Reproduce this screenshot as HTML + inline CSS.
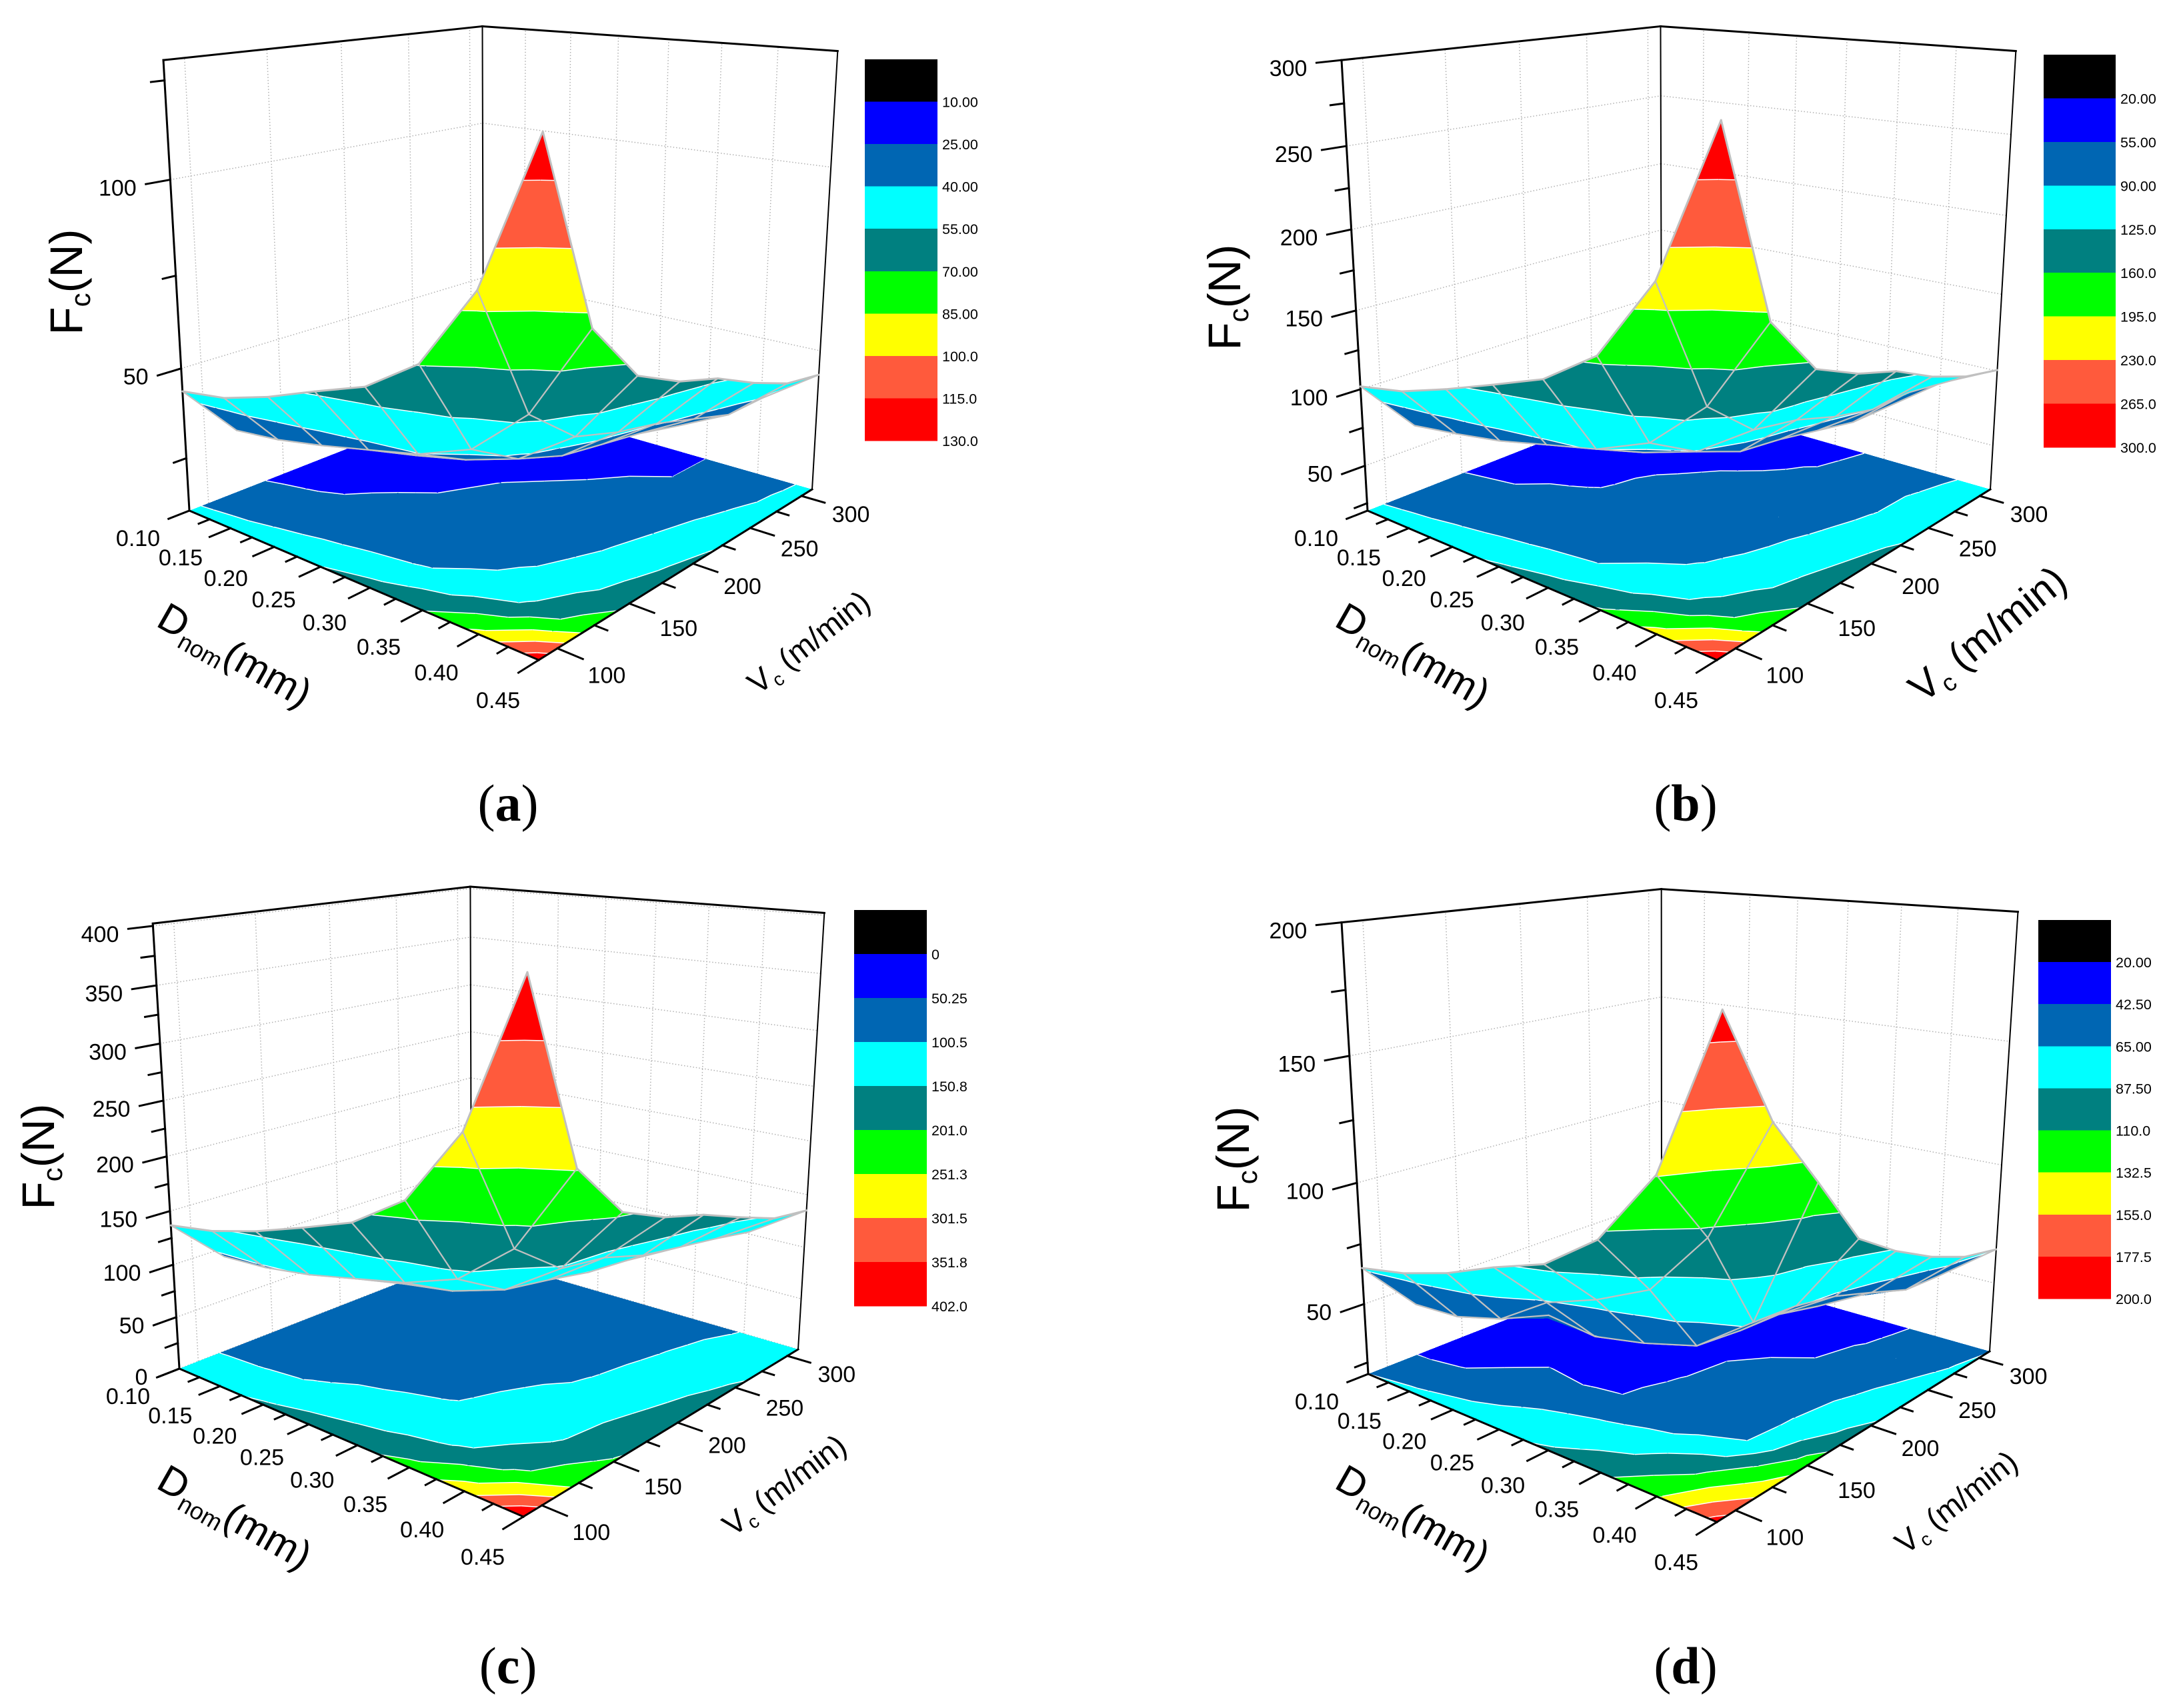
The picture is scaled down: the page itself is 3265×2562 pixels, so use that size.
<!DOCTYPE html>
<html lang="en">
<head>
<meta charset="utf-8">
<title>Cutting force surfaces Fc vs Dnom and Vc</title>
<style>
html,body{margin:0;padding:0;background:#fff;}
svg{display:block;font-family:"Liberation Sans",Arial,sans-serif;}
</style>
</head>
<body>
<svg id="figure" xmlns="http://www.w3.org/2000/svg" width="3265" height="2562" viewBox="0 0 3265 2562"></svg>
<script>
// ---- grid axes ----
const dNodes = [0.10, 0.15, 0.20, 0.25, 0.30, 0.35, 0.40, 0.45];
const vNodes = [88, 120, 152, 184, 215, 247, 279, 311];
const dTicks = ['0.10', '0.15', '0.20', '0.25', '0.30', '0.35', '0.40', '0.45'];
const vTicks = [100, 150, 200, 250, 300];

// ---- contour colours (low to high) ----
const bandColors = ['#0000ff', '#0066b3', '#00ffff', '#008080', '#00ff00', '#ffff00', '#ff5a3c', '#ff0000'];

// ---- legend levels ----
const levelsA = [10, 25, 40, 55, 70, 85, 100, 115, 130];
const labelsA = ['10.00', '25.00', '40.00', '55.00', '70.00', '85.00', '100.0', '115.0', '130.0'];
const levelsB = [20, 55, 90, 125, 160, 195, 230, 265, 300];
const labelsB = ['20.00', '55.00', '90.00', '125.0', '160.0', '195.0', '230.0', '265.0', '300.0'];
const levelsC = [0, 50.25, 100.5, 150.8, 201.0, 251.3, 301.5, 351.8, 402.0];
const labelsC = ['0', '50.25', '100.5', '150.8', '201.0', '251.3', '301.5', '351.8', '402.0'];
const levelsD = [20, 42.5, 65, 87.5, 110, 132.5, 155, 177.5, 200];
const labelsD = ['20.00', '42.50', '65.00', '87.50', '110.0', '132.5', '155.0', '177.5', '200.0'];

// ---- z axis ticks ----
const zMajorA = [50, 100];
const zMinorA = [25, 75, 125];
const zMajorB = [50, 100, 150, 200, 250, 300];
const zMinorB = [25, 75, 125, 175, 225, 275];
const zMajorC = [0, 50, 100, 150, 200, 250, 300, 350, 400];
const zMinorC = [25, 75, 125, 175, 225, 275, 325, 375];
const zMajorD = [50, 100, 150, 200];
const zMinorD = [25, 75, 125, 175];

// ---- Fc values: one row per Vc node, one column per Dnom node ----
const fcA = [
  [43.7, 45.8, 50.0, 55.3, 60.3, 69.4, 89.2, 124.2],
  [27.8, 29.4, 32.1, 35.3, 38.6, 44.2, 56.9, 80.2],
  [22.7, 24.0, 26.5, 28.5, 31.8, 36.5, 46.5, 65.2],
  [21.0, 22.0, 24.0, 26.0, 28.5, 32.0, 42.6, 59.3],
  [20.0, 21.0, 23.0, 25.0, 27.0, 30.0, 40.0, 55.7],
  [19.0, 20.0, 21.5, 23.0, 25.0, 28.0, 36.3, 50.0],
  [18.0, 19.0, 20.0, 21.5, 23.0, 25.0, 32.6, 45.3],
  [17.0, 18.0, 19.0, 20.5, 22.5, 25.0, 32.5, 43.2]
];
const fcB = [
  [101.8, 107.7, 118.0, 129.6, 141.6, 163.0, 209.3, 291.7],
  [64.8, 69.2, 74.5, 82.2, 89.7, 103.5, 133.7, 187.1],
  [55.0, 56.0, 62.0, 68.0, 75.4, 86.2, 109.1, 152.4],
  [50.0, 51.0, 54.0, 60.0, 66.0, 74.0, 103.4, 139.5],
  [47.0, 49.0, 53.0, 57.0, 62.0, 70.0, 94.3, 130.9],
  [44.0, 46.0, 49.0, 53.5, 57.0, 64.0, 87.5, 117.2],
  [42.0, 43.0, 46.0, 49.0, 53.5, 58.0, 87.3, 106.8],
  [40.0, 41.0, 44.0, 47.0, 52.0, 57.0, 83.0, 100.6]
];
const fcC = [
  [136.8, 144.1, 156.5, 172.0, 188.7, 218.4, 280.7, 399.0],
  [91.9, 94.8, 101.9, 112.2, 122.8, 139.8, 178.0, 251.6],
  [82.0, 85.0, 88.0, 91.0, 98.6, 114.0, 146.1, 204.6],
  [78.0, 80.0, 83.0, 87.0, 93.0, 106.0, 139.4, 186.1],
  [74.0, 76.0, 79.0, 83.0, 88.0, 97.0, 126.2, 174.2],
  [70.0, 72.0, 75.0, 79.0, 84.0, 92.0, 118.3, 157.6],
  [67.0, 69.0, 72.0, 76.0, 81.0, 88.0, 110.7, 142.1],
  [65.0, 67.0, 70.0, 74.0, 79.0, 86.0, 102.0, 135.1]
];
const fcD = [
  [65.1, 68.9, 74.9, 83.1, 90.1, 104.5, 131.4, 186.1],
  [42.1, 43.3, 48.9, 62.0, 69.5, 79.5, 104.0, 147.4],
  [35.0, 37.0, 42.5, 40.2, 44.3, 50.2, 66.1, 122.0],
  [33.0, 35.0, 37.0, 40.0, 43.0, 48.0, 64.5, 95.7],
  [31.0, 33.0, 35.0, 38.0, 42.5, 47.0, 60.8, 84.5],
  [29.0, 31.0, 33.0, 36.0, 39.5, 42.5, 54.8, 75.3],
  [28.0, 29.0, 31.0, 34.0, 37.0, 40.0, 48.4, 68.3],
  [27.0, 28.0, 30.0, 32.0, 35.0, 38.0, 47.0, 64.5]
];

// ---- panel layout (box geometry, legend and title placement) ----
const layoutA = {
  L:[284,766], F:[808,990], R:[1218,734], B:[725,593], LT:[245,90], RT:[1256,82], BT:[724,35], bandDrop:0.009,
  legend:[1297,89,109,572], zTitle:[123,423], dTitle:[232,938,29.5], vTitle:[1137,1043,-38,47], tag:[762,1231]
};
const layoutB = {
  L:[2051,766], F:[2575,990], R:[2985,734], B:[2492,593], LT:[2012,90], RT:[3023,82], BT:[2491,35], bandDrop:0.009,
  legend:[3065,82,108,589], zTitle:[1860,446], dTitle:[1999,938,29.5], vTitle:[2884,1056,-39,61], tag:[2528,1231]
};
const layoutC = {
  L:[269,2053], F:[785,2275], R:[1197,2024], B:[707,1882], LT:[229,1382], RT:[1236,1375], BT:[707,1328], bandDrop:0.004,
  legend:[1281,1365,109,594], zTitle:[81,1735], dTitle:[232,2231,29.5], vTitle:[1099,2306,-37,47], tag:[762,2525]
};
const layoutD = {
  L:[2052,2061], F:[2575,2283], R:[2984,2027], B:[2492,1888], LT:[2012,1383], RT:[3026,1375], BT:[2491,1328], bandDrop:0.01,
  legend:[3057,1380,109,568], zTitle:[1873,1739], dTitle:[1999,2231,29.5], vTitle:[2858,2333,-38,47], tag:[2528,2525]
};

const panels = [
  {id:'a', fc:fcA, levels:levelsA, labels:labelsA, zMajor:zMajorA, zMinor:zMinorA, box:layoutA},
  {id:'b', fc:fcB, levels:levelsB, labels:labelsB, zMajor:zMajorB, zMinor:zMinorB, box:layoutB},
  {id:'c', fc:fcC, levels:levelsC, labels:labelsC, zMajor:zMajorC, zMinor:zMinorC, box:layoutC},
  {id:'d', fc:fcD, levels:levelsD, labels:labelsD, zMajor:zMajorD, zMinor:zMinorD, box:layoutD}
];

const NS = 'http://www.w3.org/2000/svg';
const root = document.getElementById('figure');

function make(tag, parent, attrs) {
  const el = document.createElementNS(NS, tag);
  for (const k in attrs) el.setAttribute(k, attrs[k]);
  parent.appendChild(el);
  return el;
}

// axis functions
function uOf(d) { return (d - 0.10) / 0.35; }
function vOf(s) { return (s - 88) / 223; }

// perspective camera fitted to the box corners
function camera(b) {
  const dx1 = b.F[0]-b.R[0], dx2 = b.B[0]-b.R[0], sx = b.L[0]-b.F[0]+b.R[0]-b.B[0];
  const dy1 = b.F[1]-b.R[1], dy2 = b.B[1]-b.R[1], sy = b.L[1]-b.F[1]+b.R[1]-b.B[1];
  const den = dx1*dy2 - dx2*dy1;
  const g = (sx*dy2 - dx2*sy)/den, h = (dx1*sy - sx*dy1)/den;
  const a1 = b.F[0]-b.L[0]+g*b.F[0], a2 = b.B[0]-b.L[0]+h*b.B[0];
  const b1 = b.F[1]-b.L[1]+g*b.F[1], b2 = b.B[1]-b.L[1]+h*b.B[1];
  const sl = (b.L[0]-b.LT[0])/(b.L[1]-b.LT[1]);
  const sr = (b.R[0]-b.RT[0])/(b.R[1]-b.RT[1]);
  const vy = (b.RT[0]-sr*b.RT[1]-b.LT[0]+sl*b.LT[1])/(sl-sr);
  const vx = b.LT[0]+sl*(vy-b.LT[1]);
  const k1 = (b.LT[1]-b.L[1])/(vy-b.LT[1]);
  const k2 = (b.RT[1]*(1+g+h)-(b.L[1]+b1+b2))/(vy-b.RT[1]);
  const k3 = (b.BT[1]*(1+h)-(b.L[1]+b2))/(vy-b.BT[1]);
  const k = (k1+k2+k3)/3;
  return function(u, v, w) {
    const d = 1+g*u+h*v+k*w;
    return [(b.L[0]+a1*u+a2*v+vx*k*w)/d, (b.L[1]+b1*u+b2*v+vy*k*w)/d];
  };
}

function clip(poly, level, keepAbove) {
  const out = [];
  for (let i = 0; i < poly.length; i++) {
    const p = poly[i], q = poly[(i+1)%poly.length];
    const pin = keepAbove ? p[2] >= level : p[2] <= level;
    const qin = keepAbove ? q[2] >= level : q[2] <= level;
    if (pin) out.push(p);
    if (pin !== qin) {
      const t = (level-p[2])/(q[2]-p[2]);
      out.push([p[0]+t*(q[0]-p[0]), p[1]+t*(q[1]-p[1]), level]);
    }
  }
  return out;
}

function crossing(tri, level) {
  const pts = [];
  for (let i = 0; i < 3; i++) {
    const p = tri[i], q = tri[(i+1)%3];
    if ((p[2] < level) !== (q[2] < level)) {
      const t = (level-p[2])/(q[2]-p[2]);
      pts.push([p[0]+t*(q[0]-p[0]), p[1]+t*(q[1]-p[1])]);
    }
  }
  return pts.length === 2 ? pts : null;
}

// contour-filled cell: split in four triangles about the centre
function drawCell(parent, panel, project, i, j, flat) {
  const fc = panel.fc, lv = panel.levels;
  const z0 = lv[0], zr = lv[lv.length-1]-z0;
  const drop = flat ? 0 : panel.box.bandDrop*zr;
  const n = [
    [uOf(dNodes[i]), vOf(vNodes[j]), fc[j][i]+drop],
    [uOf(dNodes[i+1]), vOf(vNodes[j]), fc[j][i+1]+drop],
    [uOf(dNodes[i+1]), vOf(vNodes[j+1]), fc[j+1][i+1]+drop],
    [uOf(dNodes[i]), vOf(vNodes[j+1]), fc[j+1][i]+drop]
  ];
  const c = [0,1,2].map(a => (n[0][a]+n[1][a]+n[2][a]+n[3][a])/4);
  const toXY = (p, z) => project(p[0], p[1], flat ? 0 : (z-drop-z0)/zr);
  for (let t = 0; t < 4; t++) {
    const tri = [n[t], n[(t+1)%4], c];
    for (let b = 0; b < bandColors.length; b++) {
      const lo = b === 0 ? -Infinity : lv[b];
      const hi = b === bandColors.length-1 ? Infinity : lv[b+1];
      let poly = clip(tri, lo, true);
      if (poly.length >= 3) poly = clip(poly, hi, false);
      if (poly.length < 3) continue;
      const pts = poly.map(p => toXY(p, p[2]).map(x => x.toFixed(1)).join(',')).join(' ');
      const el = make('polygon', parent, {points:pts, fill:bandColors[b], 'shape-rendering':'crispEdges'});
      
      
    }
    for (let l = 1; l < lv.length-1; l++) {
      const seg = crossing(tri, lv[l]);
      if (!seg) continue;
      const a = toXY(seg[0], lv[l]), d = toXY(seg[1], lv[l]);
      const el = make('line', parent, {x1:a[0], y1:a[1], x2:d[0], y2:d[1], stroke:'#ffffff', 'stroke-width':1.5});
      
      
    }
  }
}

function drawWire(parent, panel, project, i1, j1, i2, j2) {
  const lv = panel.levels, z0 = lv[0], zr = lv[lv.length-1]-z0;
  const a = project(uOf(dNodes[i1]), vOf(vNodes[j1]), (panel.fc[j1][i1]-z0)/zr);
  const b = project(uOf(dNodes[i2]), vOf(vNodes[j2]), (panel.fc[j2][i2]-z0)/zr);
  const outer = (j1 === 0 && j2 === 0) || (i1 === 7 && i2 === 7);
  const el = make('line', parent, {x1:a[0], y1:a[1], x2:b[0], y2:b[1], stroke:'#c0c0c0', 'stroke-width':outer?3:2.2, 'stroke-linecap':'round'});
  
  
}

function axisLine(parent, a, b, width, name) {
  const el = make('line', parent, {x1:a[0], y1:a[1], x2:b[0], y2:b[1], stroke:'#000', 'stroke-width':width, 'stroke-linecap':'square'});
  
  
}

function gridLine(parent, a, b) {
  const el = make('line', parent, {x1:a[0], y1:a[1], x2:b[0], y2:b[1], stroke:'#b0b0b0', 'stroke-width':1.5, 'stroke-dasharray':'1.5 3'});
  
  
}

function label(parent, x, y, str, size, anchor, name) {
  const el = make('text', parent, {x:x, y:y, 'font-size':size, 'text-anchor':anchor, fill:'#000'});
  el.textContent = str;
  
  
  return el;
}

panels.forEach(panel => {
  const box = panel.box, lv = panel.levels;
  const z0 = lv[0], zr = lv[lv.length-1]-z0;
  const wOf = z => (z-z0)/zr;
  const project = camera(box);
  const g = make('g', root, {});
  
  

  // wall grid
  const walls = make('g', g, {});
  
  
  vTicks.forEach(s => gridLine(walls, project(0, vOf(s), 0), project(0, vOf(s), 1)));
  dTicks.forEach(d => gridLine(walls, project(uOf(+d), 1, 0), project(uOf(+d), 1, 1)));
  panel.zMajor.forEach(z => {
    gridLine(walls, project(0, 0, wOf(z)), project(0, 1, wOf(z)));
    gridLine(walls, project(0, 1, wOf(z)), project(1, 1, wOf(z)));
  });

  // box frame
  const frame = make('g', g, {});
  
  
  axisLine(frame, project(0,0,1), project(0,1,1), 3, 'top-edge-left');
  axisLine(frame, project(0,1,1), project(1,1,1), 3, 'top-edge-right');
  axisLine(frame, project(0,1,0), project(0,1,1), 2, 'back-edge');
  axisLine(frame, project(1,1,0), project(1,1,1), 2, 'right-edge');
  axisLine(frame, project(0,0,0), project(0,0,1), 3, 'z-axis-line');

  // floor contour map
  const floor = make('g', g, {});
  
  
  for (let j = 0; j < 7; j++) for (let i = 0; i < 7; i++) drawCell(floor, panel, project, i, j, true);

  // floor axes
  const axes = make('g', g, {});
  
  
  axisLine(axes, project(0,0,0), project(1,0,0), 3, 'd-axis-line');
  axisLine(axes, project(1,0,0), project(1,1,0), 3, 'v-axis-line');

  // surface: painter's order, back corner first, front corner last
  const surf = make('g', g, {});
  
  
  const cells = [];
  for (let j = 0; j < 7; j++) for (let i = 0; i < 7; i++) cells.push([i, j]);
  cells.sort((p, q) => (p[0]-p[1]) - (q[0]-q[1]));
  cells.forEach(c => {
    const i = c[0], j = c[1];
    const cell = make('g', surf, {});
    
    
    drawCell(cell, panel, project, i, j, false);
    drawWire(cell, panel, project, i, j, i+1, j);
    drawWire(cell, panel, project, i+1, j, i+1, j+1);
    drawWire(cell, panel, project, i+1, j+1, i, j+1);
    drawWire(cell, panel, project, i, j+1, i, j);
  });

  // z ticks
  const zAxis = make('g', g, {});
  
  
  panel.zMajor.forEach(z => {
    const a = project(0, 0, wOf(z)), e = project(0, -0.062, wOf(z));
    axisLine(zAxis, a, e, 3, 'z-major-tick');
    label(zAxis, e[0]-14, a[1]+24, String(z), 34, 'end', 'z-tick-label');
  });
  panel.zMinor.forEach(z => {
    axisLine(zAxis, project(0, 0, wOf(z)), project(0, -0.034, wOf(z)), 3, 'z-minor-tick');
  });

  // Dnom ticks
  dTicks.forEach((d, idx) => {
    const u = uOf(+d);
    const a = project(u, 0, 0);
    axisLine(axes, a, project(u, -0.057, 0), 3, 'd-major-tick');
    label(axes, a[0]-77+16*u, a[1]+53+19*u, d, 34, 'middle', 'd-tick-label');
    if (idx < dTicks.length-1) {
      const um = uOf(+d + 0.025);
      axisLine(axes, project(um, 0, 0), project(um, -0.03, 0), 3, 'd-minor-tick');
    }
  });

  // Vc ticks
  vTicks.forEach((s, idx) => {
    const v = vOf(s);
    const a = project(1, v, 0);
    axisLine(axes, a, project(1.058, v, 0), 3, 'v-major-tick');
    label(axes, a[0]+74, a[1]+39+13*(300-s)/200, String(s), 34, 'middle', 'v-tick-label');
    if (idx < vTicks.length-1) {
      const vm = vOf(s+25);
      axisLine(axes, project(1, vm, 0), project(1.03, vm, 0), 3, 'v-minor-tick');
    }
  });

  // axis titles
  const zt = make('text', g, {transform:'translate('+box.zTitle[0]+','+box.zTitle[1]+') rotate(-90)', 'text-anchor':'middle', 'font-size':69, fill:'#000'});
  
  
  zt.innerHTML = 'F<tspan font-size="42" dy="12">c</tspan><tspan dy="-12">(N)</tspan>';

  const dt = make('text', g, {transform:'translate('+box.dTitle[0]+','+box.dTitle[1]+') rotate('+box.dTitle[2]+')', 'font-size':60, fill:'#000'});
  
  
  dt.innerHTML = 'D<tspan font-size="36" dy="12">nom</tspan><tspan dy="-12">(mm)</tspan>';

  const vs = box.vTitle[3];
  const vt = make('text', g, {transform:'translate('+box.vTitle[0]+','+box.vTitle[1]+') rotate('+box.vTitle[2]+')', 'font-size':vs, fill:'#000'});
  
  
  vt.innerHTML = 'V<tspan font-size="'+(vs*0.6)+'" dy="'+(vs*0.2)+'">c</tspan><tspan dy="'+(-vs*0.2)+'"> (m/min)</tspan>';

  // legend
  const lg = make('g', g, {});
  
  
  const bx = box.legend[0], by = box.legend[1], bw = box.legend[2], bh = box.legend[3] / 9;
  const swatches = ['#000000'].concat(bandColors);
  swatches.forEach((col, k) => {
    const r = make('rect', lg, {x:bx, y:by+k*bh, width:bw, height:bh+0.5, fill:col, 'shape-rendering':'crispEdges'});
    
    
  });
  panel.labels.forEach((t, k) => {
    label(lg, bx+bw+7, by+(k+1)*bh+8, t, 21.5, 'start', 'legend-label');
  });

  // panel tag
  const tag = make('text', g, {x:box.tag[0], y:box.tag[1], 'text-anchor':'middle', 'font-size':78, fill:'#000'});
  
  
  tag.setAttribute('style', 'font-family:"Liberation Serif",serif');
  tag.innerHTML = '(<tspan font-weight="bold">' + panel.id + '</tspan>)';
});
</script>
</body>
</html>
